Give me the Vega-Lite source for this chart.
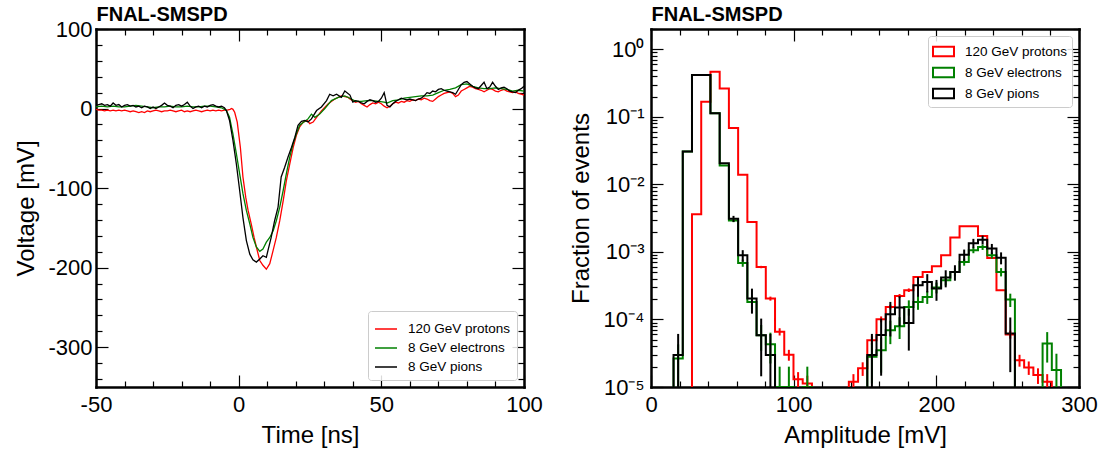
{
  "$schema": "https://vega.github.io/schema/vega-lite/v6.json",
  "background": "white",
  "padding": {"left": 14, "top": 4, "right": 5, "bottom": 5},
  "bounds": "flush",
  "spacing": 127,
  "datasets": {
    "wp": [
      {"t":-50,"v":-1},{"t":-49,"v":-2},{"t":-48,"v":-2},{"t":-47,"v":-3},{"t":-46,"v":-2},{"t":-45,"v":-3},{"t":-44,"v":-2},{"t":-43,"v":-3},{"t":-42,"v":-2},{"t":-41,"v":-3},
      {"t":-40,"v":-2},{"t":-39,"v":-3},{"t":-38,"v":-4},{"t":-37,"v":-3},{"t":-36,"v":-4},{"t":-35,"v":-5},{"t":-34,"v":-4},{"t":-33,"v":-5},{"t":-32,"v":-3},{"t":-31,"v":-4},
      {"t":-30,"v":-3},{"t":-29,"v":-2},{"t":-28,"v":-3},{"t":-27,"v":-4},{"t":-26,"v":-3},{"t":-25,"v":-3},{"t":-24,"v":-2},{"t":-23,"v":-3},{"t":-22,"v":-4},{"t":-21,"v":-3},
      {"t":-20,"v":-2},{"t":-19,"v":-4},{"t":-18,"v":-3},{"t":-17,"v":-4},{"t":-16,"v":-3},{"t":-15,"v":-2},{"t":-14,"v":-3},{"t":-13,"v":-4},{"t":-12,"v":-3},{"t":-11,"v":-2},
      {"t":-10,"v":-3},{"t":-9,"v":-2},{"t":-8,"v":-3},{"t":-7,"v":-2},{"t":-6,"v":-3},{"t":-5,"v":-2},{"t":-4,"v":-2},{"t":-3,"v":-1},{"t":-2.5,"v":0},{"t":-2,"v":-1},
      {"t":-1.4,"v":-4.6},{"t":-0.5,"v":-17},{"t":0.6,"v":-49},{"t":1.5,"v":-86},{"t":2.5,"v":-112},{"t":3.3,"v":-128},{"t":4.4,"v":-145},{"t":5.4,"v":-162},{"t":6.2,"v":-174},{"t":7.4,"v":-191},
      {"t":8.5,"v":-197},{"t":9.7,"v":-202},{"t":10.9,"v":-195},{"t":12.1,"v":-178},{"t":13.2,"v":-162},{"t":14.4,"v":-141},{"t":15.6,"v":-116},{"t":16.7,"v":-91},{"t":17.9,"v":-70},{"t":19.1,"v":-49},
      {"t":20.2,"v":-34},{"t":21.4,"v":-23},{"t":22.6,"v":-17},{"t":24.1,"v":-15},{"t":24.9,"v":-19},{"t":26.1,"v":-17},{"t":27.3,"v":-11},{"t":29,"v":-3},{"t":31.4,"v":6},{"t":33.7,"v":12},
      {"t":36,"v":16},{"t":38.4,"v":14},{"t":39,"v":12},{"t":40,"v":10},{"t":41,"v":8},{"t":42,"v":9},{"t":43,"v":6},{"t":44,"v":4},{"t":45,"v":2},{"t":46,"v":5},
      {"t":47,"v":7},{"t":48,"v":6},{"t":49,"v":8},{"t":50,"v":6},{"t":51,"v":3},{"t":52,"v":1},{"t":53,"v":3},{"t":54,"v":6},{"t":55,"v":8},{"t":56,"v":7},
      {"t":57,"v":9},{"t":58,"v":8},{"t":59,"v":10},{"t":60,"v":9},{"t":61,"v":11},{"t":62,"v":10},{"t":63,"v":12},{"t":64,"v":11},{"t":65,"v":13},{"t":66,"v":12},
      {"t":67,"v":10},{"t":68,"v":9},{"t":69,"v":12},{"t":70,"v":15},{"t":71,"v":17},{"t":72,"v":19},{"t":73,"v":20},{"t":74,"v":21},{"t":75,"v":19},{"t":76,"v":15},
      {"t":77,"v":17},{"t":78,"v":22},{"t":79,"v":24},{"t":80,"v":26},{"t":81,"v":28},{"t":82,"v":27},{"t":83,"v":25},{"t":84,"v":24},{"t":85,"v":23},{"t":86,"v":21},
      {"t":87,"v":23},{"t":88,"v":25},{"t":89,"v":24},{"t":90,"v":22},{"t":91,"v":21},{"t":92,"v":23},{"t":93,"v":24},{"t":94,"v":22},{"t":95,"v":21},{"t":96,"v":20},
      {"t":97,"v":21},{"t":98,"v":19},{"t":99,"v":18},{"t":100,"v":17}
    ],
    "we": [
      {"t":-50,"v":2},{"t":-48,"v":3},{"t":-46,"v":2},{"t":-44,"v":3},{"t":-42,"v":2},{"t":-40,"v":2},{"t":-38,"v":3},{"t":-36,"v":4},{"t":-34,"v":3},{"t":-32,"v":2},
      {"t":-30,"v":1},{"t":-28,"v":2},{"t":-26,"v":2},{"t":-24,"v":3},{"t":-22,"v":2},{"t":-20,"v":2},{"t":-18,"v":3},{"t":-16,"v":2},{"t":-14,"v":2},{"t":-12,"v":3},
      {"t":-10,"v":3},{"t":-8,"v":2},{"t":-6,"v":1},{"t":-4.3,"v":-2.5},{"t":-3.2,"v":-11},{"t":-2,"v":-32},{"t":-0.8,"v":-57},{"t":0.35,"v":-82},{"t":1.5,"v":-107},{"t":2.7,"v":-128},
      {"t":3.9,"v":-145},{"t":5,"v":-162},{"t":6.2,"v":-174},{"t":7.4,"v":-179.5},{"t":8.5,"v":-176.5},{"t":9.7,"v":-168},{"t":10.9,"v":-162},{"t":12.1,"v":-153.5},{"t":13.2,"v":-141},{"t":14.4,"v":-124},
      {"t":15.6,"v":-103},{"t":16.7,"v":-82},{"t":17.9,"v":-61},{"t":19.1,"v":-44},{"t":20.2,"v":-32},{"t":21.4,"v":-21},{"t":23.2,"v":-16},{"t":24.3,"v":-13},{"t":25.5,"v":-7},{"t":26.7,"v":-11},
      {"t":28.4,"v":-7},{"t":30.2,"v":0},{"t":32.5,"v":10},{"t":34.9,"v":14},{"t":37.2,"v":16},{"t":39,"v":13},{"t":41,"v":9},{"t":43,"v":9},{"t":45,"v":10},{"t":47,"v":10},
      {"t":49,"v":9},{"t":51,"v":8},{"t":52,"v":7},{"t":54,"v":10},{"t":56,"v":11},{"t":58,"v":13},{"t":60,"v":14},{"t":62,"v":15},{"t":64,"v":16},{"t":66,"v":16},
      {"t":68,"v":17},{"t":70,"v":20},{"t":72,"v":23},{"t":74,"v":24},{"t":76,"v":26},{"t":78,"v":30},{"t":80,"v":31},{"t":82,"v":28},{"t":84,"v":26},{"t":86,"v":25},
      {"t":88,"v":25},{"t":90,"v":26},{"t":92,"v":25},{"t":94,"v":24},{"t":96,"v":22},{"t":98,"v":23},{"t":100,"v":22}
    ],
    "wpi": [
      {"t":-50,"v":4},{"t":-49,"v":5},{"t":-48,"v":6},{"t":-47,"v":4},{"t":-46,"v":5},{"t":-45,"v":3},{"t":-44,"v":7},{"t":-43,"v":4},{"t":-42,"v":5},{"t":-41,"v":2},
      {"t":-40,"v":4},{"t":-39,"v":5},{"t":-38,"v":3},{"t":-37,"v":4},{"t":-36,"v":2},{"t":-35,"v":3},{"t":-34,"v":1},{"t":-33,"v":3},{"t":-32,"v":2},{"t":-31,"v":0},
      {"t":-30,"v":2},{"t":-29,"v":0},{"t":-28,"v":2},{"t":-27,"v":4},{"t":-26,"v":7},{"t":-25,"v":4},{"t":-24,"v":3},{"t":-23,"v":1},{"t":-22,"v":4},{"t":-21,"v":5},
      {"t":-20,"v":3},{"t":-19,"v":5},{"t":-18,"v":8},{"t":-17,"v":3},{"t":-16,"v":0},{"t":-15,"v":2},{"t":-14,"v":3},{"t":-13,"v":1},{"t":-12,"v":3},{"t":-11,"v":2},
      {"t":-10,"v":4},{"t":-9,"v":5},{"t":-8,"v":3},{"t":-7,"v":2},{"t":-6,"v":3},{"t":-5,"v":1},{"t":-4.3,"v":-2.5},{"t":-3.2,"v":-15},{"t":-2,"v":-40},{"t":-0.8,"v":-70},
      {"t":0.35,"v":-103},{"t":1.5,"v":-137},{"t":2.7,"v":-166},{"t":3.9,"v":-183},{"t":5,"v":-190},{"t":6.2,"v":-193},{"t":7.4,"v":-189},{"t":8.5,"v":-185},{"t":9.7,"v":-187},{"t":10.3,"v":-178},
      {"t":11.4,"v":-162},{"t":12.6,"v":-141},{"t":13.8,"v":-124},{"t":14.9,"v":-86},{"t":16.1,"v":-74},{"t":17.3,"v":-61},{"t":18.5,"v":-49},{"t":19.7,"v":-36},{"t":20.8,"v":-21},{"t":22,"v":-16},
      {"t":23.2,"v":-15},{"t":24.3,"v":-17},{"t":25.5,"v":-13},{"t":27.3,"v":-2.5},{"t":29,"v":2},{"t":30.8,"v":10},{"t":31.9,"v":18},{"t":33.1,"v":16},{"t":34.3,"v":18},{"t":36,"v":14},
      {"t":37.2,"v":22},{"t":39,"v":17},{"t":40,"v":8},{"t":41,"v":10},{"t":42,"v":9},{"t":43,"v":7},{"t":44,"v":6},{"t":45,"v":9},{"t":46,"v":11},{"t":47,"v":10},
      {"t":48,"v":8},{"t":49,"v":9},{"t":50,"v":13},{"t":51,"v":20},{"t":52,"v":4},{"t":53,"v":2},{"t":54,"v":6},{"t":55,"v":9},{"t":56,"v":11},{"t":57,"v":13},
      {"t":58,"v":12},{"t":59,"v":11},{"t":60,"v":12},{"t":61,"v":11},{"t":62,"v":10},{"t":63,"v":12},{"t":64,"v":13},{"t":65,"v":16},{"t":66,"v":20},{"t":67,"v":19},
      {"t":68,"v":22},{"t":69,"v":21},{"t":70,"v":24},{"t":71,"v":25},{"t":72,"v":23},{"t":73,"v":22},{"t":74,"v":21},{"t":75,"v":20},{"t":76,"v":18},{"t":77,"v":24},
      {"t":78,"v":30},{"t":79,"v":33},{"t":80,"v":34},{"t":81,"v":31},{"t":82,"v":28},{"t":83,"v":26},{"t":84,"v":25},{"t":85,"v":29},{"t":86,"v":33},{"t":87,"v":25},
      {"t":88,"v":27},{"t":89,"v":33},{"t":90,"v":28},{"t":91,"v":24},{"t":92,"v":26},{"t":93,"v":27},{"t":94,"v":25},{"t":95,"v":22},{"t":96,"v":21},{"t":97,"v":20},
      {"t":98,"v":23},{"t":99,"v":25},{"t":100,"v":28}
    ],
    "hp": [
      {"x":22.27,"y":1e-7},{"x":28.73,"y":0.0036},{"x":35.2,"y":0.168},{"x":41.67,"y":0.466},{"x":48.14,"y":0.264},{"x":54.6,"y":0.0686},{"x":61.07,"y":0.0139},{"x":67.54,"y":0.00277},
      {"x":74.0,"y":0.000598},{"x":80.47,"y":0.000204},{"x":86.94,"y":0.000066},{"x":93.4,"y":0.00003},{"x":99.87,"y":0.000013},{"x":106.34,"y":0.0000113},{"x":112.81,"y":1e-7},
      {"x":138.67,"y":0.000012},{"x":145.14,"y":0.0000189},{"x":151.61,"y":0.0000494},{"x":158.07,"y":0.000101},{"x":164.54,"y":0.000153},{"x":171.01,"y":0.000223},{"x":177.48,"y":0.000271},
      {"x":183.94,"y":0.000426},{"x":190.41,"y":0.000505},{"x":196.88,"y":0.000612},{"x":203.34,"y":0.00089},{"x":209.81,"y":0.00163},{"x":216.28,"y":0.00241},{"x":222.74,"y":0.00241},
      {"x":229.21,"y":0.00172},{"x":235.68,"y":0.00081},{"x":242.15,"y":0.000271},{"x":248.61,"y":0.00006},{"x":255.08,"y":0.000025},{"x":261.55,"y":0.0000195},{"x":268.01,"y":0.000015},
      {"x":274.48,"y":0.000012},{"x":280.95,"y":1e-7}
    ],
    "he": [
      {"x":9.33,"y":1e-7},{"x":15.8,"y":0.0000265},{"x":22.27,"y":0.0306},{"x":28.73,"y":0.416},{"x":35.2,"y":0.416},{"x":41.67,"y":0.113},{"x":48.14,"y":0.019},{"x":54.6,"y":0.00293},
      {"x":61.07,"y":0.000686},{"x":67.54,"y":0.000182},{"x":74.0,"y":0.0000586},{"x":80.47,"y":0.000043},{"x":86.94,"y":0.00001},{"x":93.4,"y":0.00001},{"x":99.87,"y":1e-7},{"x":106.34,"y":0.00001},
      {"x":112.81,"y":1e-7},{"x":151.61,"y":0.000028},{"x":158.07,"y":0.000035},{"x":164.54,"y":0.0000695},{"x":171.01,"y":0.0000796},{"x":177.48,"y":0.000153},{"x":183.94,"y":0.000182},
      {"x":190.41,"y":0.000216},{"x":196.88,"y":0.000297},{"x":203.34,"y":0.00038},{"x":209.81,"y":0.000505},{"x":216.28,"y":0.00071},{"x":222.74,"y":0.00106},{"x":229.21,"y":0.00118},
      {"x":235.68,"y":0.00089},{"x":242.15,"y":0.000505},{"x":248.61,"y":0.000197},{"x":255.08,"y":1e-7},{"x":274.48,"y":0.000044},{"x":280.95,"y":0.0000178},{"x":287.41,"y":1e-7}
    ],
    "hpi": [
      {"x":9.33,"y":1e-7},{"x":15.8,"y":0.0000297},{"x":22.27,"y":0.0306},{"x":28.73,"y":0.416},{"x":35.2,"y":0.416},{"x":41.67,"y":0.113},{"x":48.14,"y":0.0206},{"x":54.6,"y":0.0031},
      {"x":61.07,"y":0.00089},{"x":67.54,"y":0.000204},{"x":74.0,"y":0.0000586},{"x":80.47,"y":0.0000297},{"x":86.94,"y":1e-7},
      {"x":151.61,"y":0.0000297},{"x":158.07,"y":0.000059},{"x":164.54,"y":0.000119},{"x":171.01,"y":0.00015},{"x":177.48,"y":0.000089},{"x":183.94,"y":0.00032},{"x":190.41,"y":0.00036},
      {"x":196.88,"y":0.000287},{"x":203.34,"y":0.000417},{"x":209.81,"y":0.000505},{"x":216.28,"y":0.00091},{"x":222.74,"y":0.00135},{"x":229.21,"y":0.00152},{"x":235.68,"y":0.00112},
      {"x":242.15,"y":0.00082},{"x":248.61,"y":0.000062},{"x":255.08,"y":1e-7}
    ],
    "ep": [
      {"c":77.23,"lo":0.000574,"hi":0.000622},{"c":83.7,"lo":0.00019,"hi":0.000218},{"c":90.17,"lo":0.0000579,"hi":0.0000741},{"c":96.64,"lo":0.0000245,"hi":0.0000355},
      {"c":103.1,"lo":0.0000094,"hi":0.0000166},{"c":109.57,"lo":0.0000079,"hi":0.0000147},{"c":141.9,"lo":0.0000085,"hi":0.0000155},{"c":148.37,"lo":0.0000146,"hi":0.0000232},
      {"c":154.84,"lo":0.0000424,"hi":0.0000564},{"c":161.31,"lo":0.000091,"hi":0.000111},{"c":167.77,"lo":0.000141,"hi":0.000165},{"c":174.24,"lo":0.000208,"hi":0.000238},
      {"c":180.71,"lo":0.000255,"hi":0.000288},{"c":251.84,"lo":0.000052,"hi":0.000068},{"c":258.31,"lo":0.00002,"hi":0.00003},{"c":264.78,"lo":0.0000151,"hi":0.0000239},
      {"c":271.24,"lo":0.0000111,"hi":0.0000189},{"c":277.71,"lo":0.0000085,"hi":0.0000155}
    ],
    "ee": [
      {"c":19.03,"lo":0.0000102,"hi":0.0000428},{"c":57.83,"lo":0.00276,"hi":0.0031},{"c":64.3,"lo":0.000603,"hi":0.000769},{"c":70.77,"lo":0.000139,"hi":0.000225},
      {"c":77.23,"lo":0.0000344,"hi":0.0000828},{"c":83.7,"lo":0.0000223,"hi":0.0000637},{"c":90.17,"lo":0.000001,"hi":0.00002},{"c":96.64,"lo":0.000001,"hi":0.00002},
      {"c":109.57,"lo":0.000001,"hi":0.00002},{"c":154.84,"lo":0.0000113,"hi":0.0000447},{"c":161.31,"lo":0.0000163,"hi":0.0000537},{"c":167.77,"lo":0.0000431,"hi":0.0000959},
      {"c":174.24,"lo":0.0000514,"hi":0.000108},{"c":180.71,"lo":0.000114,"hi":0.000192},{"c":187.17,"lo":0.000139,"hi":0.000225},{"c":193.64,"lo":0.00017,"hi":0.000263},
      {"c":200.11,"lo":0.000243,"hi":0.000352},{"c":206.57,"lo":0.000318,"hi":0.000442},{"c":213.04,"lo":0.000434,"hi":0.000576},{"c":219.51,"lo":0.000626,"hi":0.000794},
      {"c":225.97,"lo":0.000957,"hi":0.001163},{"c":232.44,"lo":0.001071,"hi":0.001289},{"c":238.91,"lo":0.000796,"hi":0.000984},{"c":245.38,"lo":0.000434,"hi":0.000576},
      {"c":251.84,"lo":0.000153,"hi":0.000241},{"c":277.71,"lo":0.000023,"hi":0.000065},{"c":284.18,"lo":0.0000045,"hi":0.0000311}
    ],
    "epi": [
      {"c":19.03,"lo":0.000001,"hi":0.0000611},{"c":57.83,"lo":0.00278,"hi":0.00342},{"c":64.3,"lo":0.000718,"hi":0.001062},{"c":70.77,"lo":0.000122,"hi":0.000286},
      {"c":77.23,"lo":0.0000144,"hi":0.000103},{"c":83.7,"lo":0.000001,"hi":0.0000611},{"c":154.84,"lo":0.000001,"hi":0.0000611},{"c":161.31,"lo":0.0000147,"hi":0.000103},
      {"c":167.77,"lo":0.000056,"hi":0.000182},{"c":174.24,"lo":0.000079,"hi":0.000221},{"c":180.71,"lo":0.0000346,"hi":0.000143},{"c":187.17,"lo":0.000217,"hi":0.000423},
      {"c":193.64,"lo":0.000251,"hi":0.000469},{"c":200.11,"lo":0.000189,"hi":0.000385},{"c":206.57,"lo":0.000299,"hi":0.000535},{"c":213.04,"lo":0.000375,"hi":0.000635},
      {"c":219.51,"lo":0.000736,"hi":0.001084},{"c":225.97,"lo":0.001138,"hi":0.001562},{"c":232.44,"lo":0.001295,"hi":0.001745},{"c":238.91,"lo":0.000927,"hi":0.001313},
      {"c":245.38,"lo":0.000655,"hi":0.000985},{"c":251.84,"lo":0.0000166,"hi":0.000107}
    ]
  },
  "hconcat": [
    {
      "width": 428,
      "height": 358,
      "layer": [
        {
          "data": {"name": "wp"},
          "mark": {"type": "line", "strokeWidth": 1.3, "clip": true},
          "encoding": {
            "x": {"field": "t", "type": "quantitative", "scale": {"domain": [-50, 100], "nice": false, "zero": false},
              "axis": {"orient": "bottom", "values": [-50,-40,-30,-20,-10,0,10,20,30,40,50,60,70,80,90,100],
                "labelExpr": "datum.value % 50 == 0 ? '' + datum.value : ''",
                "tickSize": {"condition": {"test": "datum.value % 50 == 0", "value": -12}, "value": -6},
                "labelPadding": 19, "title": "Time [ns]", "titleY": 55, "titleBaseline": "alphabetic"}},
            "y": {"field": "v", "type": "quantitative", "scale": {"domain": [-350, 100], "nice": false, "zero": false},
              "axis": {"orient": "left", "values": [-340,-320,-300,-280,-260,-240,-220,-200,-180,-160,-140,-120,-100,-80,-60,-40,-20,0,20,40,60,80,100],
                "labelExpr": "datum.value % 100 == 0 ? '' + datum.value : ''",
                "tickSize": {"condition": {"test": "datum.value % 100 == 0", "value": -12}, "value": -6},
                "labelPadding": 16, "title": "Voltage [mV]", "titleX": -63, "titleBaseline": "alphabetic"}},
            "color": {"datum": "120 GeV protons", "type": "nominal",
              "scale": {"domain": ["120 GeV protons", "8 GeV electrons", "8 GeV pions"], "range": ["#ff0000", "#008000", "#000000"]},
              "legend": {"title": null, "orient": "bottom-right", "offset": 7, "symbolType": "stroke", "symbolSize": 484, "symbolStrokeWidth": 1.5,
                "labelFontSize": 13.5, "labelOffset": 10, "padding": 6, "rowPadding": 0, "fillColor": "rgba(255,255,255,0.85)", "strokeColor": "#cccccc", "cornerRadius": 3}}
          }
        },
        {
          "data": {"name": "we"},
          "mark": {"type": "line", "strokeWidth": 1.3, "clip": true},
          "encoding": {
            "x": {"field": "t", "type": "quantitative",
              "axis": {"orient": "top", "values": [-50,-40,-30,-20,-10,0,10,20,30,40,50,60,70,80,90,100], "labels": false,
                "title": "FNAL-SMSPD", "titleX": 0, "titleY": -8.5, "titleAlign": "left", "titleAnchor": "start", "titleBaseline": "alphabetic", "titleAngle": 0,
                "titleFontSize": 20, "titleFontWeight": "bold",
                "tickSize": {"condition": {"test": "datum.value % 50 == 0", "value": -12}, "value": -6}}},
            "y": {"field": "v", "type": "quantitative",
              "axis": {"orient": "right", "values": [-340,-320,-300,-280,-260,-240,-220,-200,-180,-160,-140,-120,-100,-80,-60,-40,-20,0,20,40,60,80,100], "labels": false, "title": null,
                "tickSize": {"condition": {"test": "datum.value % 100 == 0", "value": -12}, "value": -6}}},
            "color": {"datum": "8 GeV electrons", "type": "nominal"}
          }
        },
        {
          "data": {"name": "wpi"},
          "mark": {"type": "line", "strokeWidth": 1.3, "clip": true},
          "encoding": {
            "x": {"field": "t", "type": "quantitative", "axis": null},
            "y": {"field": "v", "type": "quantitative", "axis": null},
            "color": {"datum": "8 GeV pions", "type": "nominal"}
          }
        }
      ],
      "resolve": {"axis": {"x": "independent", "y": "independent"}}
    },
    {
      "width": 428,
      "height": 358,
      "layer": [
        {
          "data": {"name": "hp"},
          "mark": {"type": "line", "interpolate": "step-after", "strokeWidth": 2, "clip": true},
          "encoding": {
            "x": {"field": "x", "type": "quantitative", "scale": {"domain": [0, 300], "nice": false, "zero": false},
              "axis": {"orient": "bottom", "values": [0,20,40,60,80,100,120,140,160,180,200,220,240,260,280,300],
                "labelExpr": "datum.value % 100 == 0 ? '' + datum.value : ''",
                "tickSize": {"condition": {"test": "datum.value % 100 == 0", "value": -12}, "value": -6},
                "labelPadding": 19, "title": "Amplitude [mV]", "titleY": 55, "titleBaseline": "alphabetic"}},
            "y": {"field": "y", "type": "quantitative", "scale": {"type": "log", "domain": [0.00001, 2], "nice": false},
              "axis": {"orient": "left", "values": [0.00001,0.00002,0.00003,0.00004,0.00005,0.00006,0.00007,0.00008,0.00009,0.0001,0.0002,0.0003,0.0004,0.0005,0.0006,0.0007,0.0008,0.0009,0.001,0.002,0.003,0.004,0.005,0.006,0.007,0.008,0.009,0.01,0.02,0.03,0.04,0.05,0.06,0.07,0.08,0.09,0.1,0.2,0.3,0.4,0.5,0.6,0.7,0.8,0.9,1,2],
                "labelExpr": "abs(log(datum.value)/LN10 - round(log(datum.value)/LN10)) < 0.000001 ? '10' + ['⁻⁵','⁻⁴','⁻³','⁻²','⁻¹','⁰'][round(log(datum.value)/LN10) + 5] : ''",
                "tickSize": {"condition": {"test": "abs(log(datum.value)/LN10 - round(log(datum.value)/LN10)) < 0.000001", "value": -12}, "value": -6},
                "labelPadding": 19, "title": "Fraction of events", "titleX": -63, "titleBaseline": "alphabetic"}},
            "color": {"datum": "120 GeV protons", "type": "nominal",
              "scale": {"domain": ["120 GeV protons", "8 GeV electrons", "8 GeV pions"], "range": ["#ff0000", "#008000", "#000000"]},
              "legend": {"title": null, "orient": "top-right", "offset": 7, "symbolType": "M-1,-0.45H1V0.45H-1Z", "symbolSize": 441, "symbolStrokeWidth": 2, "symbolFillColor": "transparent",
                "labelFontSize": 13.5, "labelOffset": 10, "padding": 4, "rowPadding": -1, "fillColor": "rgba(255,255,255,0.85)", "strokeColor": "#cccccc", "cornerRadius": 3}}
          }
        },
        {
          "data": {"name": "he"},
          "mark": {"type": "line", "interpolate": "step-after", "strokeWidth": 2, "clip": true},
          "encoding": {
            "x": {"field": "x", "type": "quantitative",
              "axis": {"orient": "top", "values": [0,20,40,60,80,100,120,140,160,180,200,220,240,260,280,300], "labels": false,
                "title": "FNAL-SMSPD", "titleX": 0, "titleY": -8.5, "titleAlign": "left", "titleAnchor": "start", "titleBaseline": "alphabetic", "titleAngle": 0,
                "titleFontSize": 20, "titleFontWeight": "bold",
                "tickSize": {"condition": {"test": "datum.value % 100 == 0", "value": -12}, "value": -6}}},
            "y": {"field": "y", "type": "quantitative",
              "axis": {"orient": "right", "values": [0.00001,0.00002,0.00003,0.00004,0.00005,0.00006,0.00007,0.00008,0.00009,0.0001,0.0002,0.0003,0.0004,0.0005,0.0006,0.0007,0.0008,0.0009,0.001,0.002,0.003,0.004,0.005,0.006,0.007,0.008,0.009,0.01,0.02,0.03,0.04,0.05,0.06,0.07,0.08,0.09,0.1,0.2,0.3,0.4,0.5,0.6,0.7,0.8,0.9,1,2], "labels": false, "title": null,
                "tickSize": {"condition": {"test": "abs(log(datum.value)/LN10 - round(log(datum.value)/LN10)) < 0.000001", "value": -12}, "value": -6}}},
            "color": {"datum": "8 GeV electrons", "type": "nominal"}
          }
        },
        {
          "data": {"name": "hpi"},
          "mark": {"type": "line", "interpolate": "step-after", "strokeWidth": 2, "clip": true},
          "encoding": {
            "x": {"field": "x", "type": "quantitative", "axis": null},
            "y": {"field": "y", "type": "quantitative", "axis": null},
            "color": {"datum": "8 GeV pions", "type": "nominal"}
          }
        },
        {
          "data": {"name": "ep"},
          "mark": {"type": "rule", "strokeWidth": 2, "clip": true},
          "encoding": {
            "x": {"field": "c", "type": "quantitative", "axis": null},
            "y": {"field": "lo", "type": "quantitative", "axis": null},
            "y2": {"field": "hi"},
            "color": {"datum": "120 GeV protons", "type": "nominal"}
          }
        },
        {
          "data": {"name": "ee"},
          "mark": {"type": "rule", "strokeWidth": 2, "clip": true},
          "encoding": {
            "x": {"field": "c", "type": "quantitative", "axis": null},
            "y": {"field": "lo", "type": "quantitative", "axis": null},
            "y2": {"field": "hi"},
            "color": {"datum": "8 GeV electrons", "type": "nominal"}
          }
        },
        {
          "data": {"name": "epi"},
          "mark": {"type": "rule", "strokeWidth": 2, "clip": true},
          "encoding": {
            "x": {"field": "c", "type": "quantitative", "axis": null},
            "y": {"field": "lo", "type": "quantitative", "axis": null},
            "y2": {"field": "hi"},
            "color": {"datum": "8 GeV pions", "type": "nominal"}
          }
        }
      ],
      "resolve": {"axis": {"x": "independent", "y": "independent"}}
    }
  ],
  "resolve": {"scale": {"color": "independent"}, "legend": {"color": "independent"}},
  "config": {
    "font": "Liberation Sans",
    "view": {"stroke": null},
    "axis": {"domainColor": "#000000", "domainWidth": 2.5, "domainCap": "square", "tickColor": "#000000", "tickWidth": 1.2,
      "labelColor": "#000000", "labelFontSize": 22, "labelFont": "Liberation Sans", "titleColor": "#000000", "titleFontSize": 24,
      "titleFont": "Liberation Sans", "titleFontWeight": "normal", "labelOverlap": false, "labelFlush": false, "grid": false, "zindex": 1},
    "legend": {"labelFont": "Liberation Sans", "labelColor": "#000000"}
  }
}
